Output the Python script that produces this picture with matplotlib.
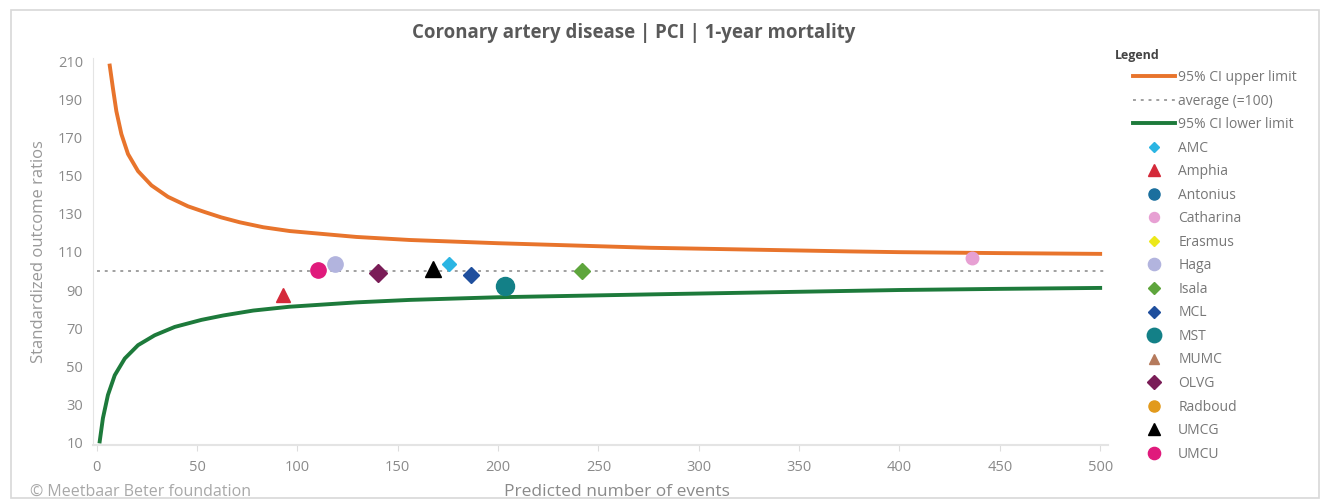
import numpy as np
import matplotlib
matplotlib.use("Agg")
import matplotlib.pyplot as plt
from matplotlib.patches import Rectangle

OUT_FILE = "out.png"

# 95% CI funnel
upper_x = [6.5, 8.1, 9.8, 12.3, 15.6, 20.6, 27.3, 35.5, 45.5, 53.8, 62, 71.3, 83, 96.2, 129.4,
           156, 200, 276, 375, 400, 450, 500]
upper_y = [208, 196, 184, 172, 161.5, 152.5, 145, 139, 134, 131, 128.2, 125.6, 123, 121, 117.9,
           116.3, 114.6, 112.2, 110.3, 109.9, 109.4, 109]
lower_x = [1.5, 3.1, 5.6, 9, 14, 20.6, 28.9, 38.9, 52.2, 63, 78, 96, 129.4, 156, 200, 276,
           400, 450, 500]
lower_y = [10.4, 22.6, 34.8, 45.2, 54, 61, 66.2, 70.6, 74.3, 76.6, 79.2, 81.2, 83.5, 84.8, 86.2, 87.7,
           90, 90.6, 91.1]
average = 100

hospitals = ["AMC", "Amphia", "Antonius", "Catharina", "Erasmus", "Haga", "Isala", "MCL",
             "MST", "MUMC", "OLVG", "Radboud", "UMCG", "UMCU"]
hosp_x = [175.7, 92.9, np.nan, 436, np.nan, 118.6, 242, 186.3, 203.4, np.nan, 140.2, np.nan, 167.6, 110.3]
hosp_y = [103.7, 87.5, np.nan, 106.6, np.nan, 103.7, 100, 98, 92.2, np.nan, 99.2, np.nan, 101, 100.7]

# marker style per hospital: (marker, colour, size)
STYLE = {
    "AMC": ("D", "#2bb5e3", 7),
    "Amphia": ("^", "#d42a3a", 10),
    "Antonius": ("o", "#1b6f9e", 10),
    "Catharina": ("o", "#e7a0d3", 9),
    "Erasmus": ("D", "#ece81a", 7),
    "Haga": ("o", "#b2b4de", 11),
    "Isala": ("D", "#5ea53c", 8),
    "MCL": ("D", "#1f4f9d", 8),
    "MST": ("o", "#138087", 13),
    "MUMC": ("^", "#b57a5c", 9),
    "OLVG": ("D", "#7a1d57", 9),
    "Radboud": ("o", "#e29a1c", 10),
    "UMCG": ("^", "#000000", 11),
    "UMCU": ("o", "#e01a7c", 11),
}

plt.rcParams["font.family"] = ["Open Sans", "DejaVu Sans"]

fig = plt.figure(figsize=(13.24, 5.04), dpi=100)
fig.patch.set_facecolor("white")
fig.add_artist(Rectangle((0.008, 0.012), 0.988, 0.968, transform=fig.transFigure,
                         fill=False, edgecolor="#d8d8d8", linewidth=1.2))

ax = fig.add_axes([0.070, 0.117, 0.767, 0.768])

h_up, = ax.plot(upper_x, upper_y, color="#e8742c", linewidth=2.8,
                solid_joinstyle="round", label="95% CI upper limit")
h_avg, = ax.plot([0, 503], [average, average], color="#a0a0a0", linestyle=(0, (1.5, 2.5)),
                 linewidth=1.4, label="average (=100)")
h_low, = ax.plot(lower_x, lower_y, color="#1d7a3b", linewidth=2.8,
                 solid_joinstyle="round", label="95% CI lower limit")

handles = [h_up, h_avg, h_low]
for name, x, y in zip(hospitals, hosp_x, hosp_y):
    m, c, s = STYLE[name]
    h, = ax.plot([x], [y], linestyle="none", marker=m, color=c, markersize=s,
                 markeredgecolor=c, label=name, zorder=3)
    handles.append(h)

ax.set_xlim(-2, 504)
ax.set_ylim(8.5, 212)
ax.set_xticks(np.arange(0, 501, 50))
ax.set_yticks(np.arange(10, 211, 20))
ax.tick_params(axis="both", colors="#dddddd", labelcolor="#8a8a8a", labelsize=10.5, length=4)
ax.tick_params(axis="y", length=0, pad=7)
ax.tick_params(axis="x", pad=7)
for side in ["top", "right"]:
    ax.spines[side].set_visible(False)
ax.spines["left"].set_color("#e4e4e4")
ax.spines["bottom"].set_color("#e4e4e4")
ax.spines["bottom"].set_linewidth(1.5)

ax.set_ylabel("Standardized outcome ratios", color="#999999", fontsize=12, labelpad=8)
ax.set_xlabel("Predicted number of events", color="#8a8a8a", fontsize=12.5)
ax.xaxis.label.set_va("center")
ax.xaxis.set_label_coords(0.516, -0.121)

fig.text(634 / 1324, 1 - 33 / 504, "Coronary artery disease | PCI | 1-year mortality", ha="center",
         va="center", fontsize=13.4, fontweight="bold", color="#595959")
fig.text(0.023, 0.025, "\u00a9 Meetbaar Beter foundation", ha="left", va="center",
         fontsize=11.5, color="#a8a8a8")

fig.text(1115 / 1324, 1 - 55 / 504, "Legend", ha="left", va="center",
         fontsize=9, fontweight="bold", color="#444444")
leg = ax.legend(handles=handles, loc="upper left", bbox_to_anchor=(1133 / 1324, 1 - 70 / 504),
                bbox_transform=fig.transFigure, frameon=False, fontsize=10,
                labelspacing=0.615, handlelength=3.0, handletextpad=0.25,
                borderaxespad=0, borderpad=0, markerscale=0.8)
for t in leg.get_texts():
    t.set_color("#777777")

fig.savefig(OUT_FILE, dpi=100)
